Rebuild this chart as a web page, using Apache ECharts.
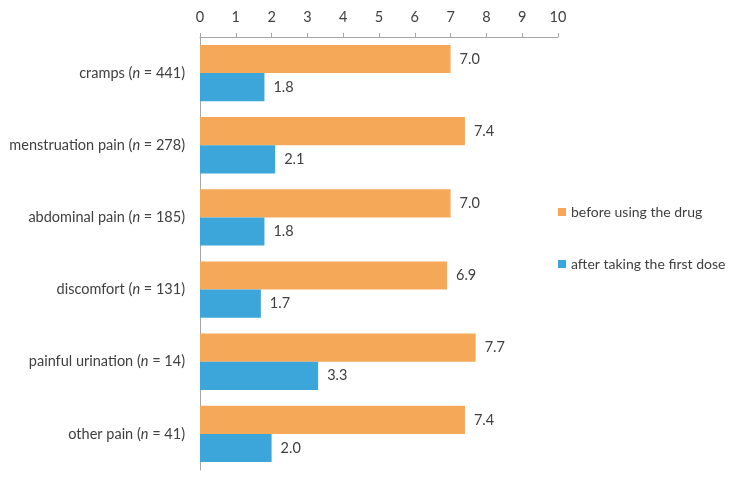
<!DOCTYPE html>
<html>
<head>
<meta charset="utf-8">
<script src="https://cdn.jsdelivr.net/npm/echarts@6/dist/echarts.min.js"></script>
<style>
html, body { margin: 0; padding: 0; background: #fff; }
#chart { width: 736px; height: 479px; }
</style>
</head>
<body>
<div id="chart"></div>
<script>
var categories = ['cramps', 'menstruation pain', 'abdominal pain', 'discomfort', 'painful urination', 'other pain'];
var counts = [441, 278, 185, 131, 14, 41];
var before = [7.0, 7.4, 7.0, 6.9, 7.7, 7.4];
var after = [1.8, 2.1, 1.8, 1.7, 3.3, 2.0];
var xTicks = [0, 10, 1];

var txt = '#404040';
var font = 'Lato';
var fs = 14.5;

var chart = echarts.init(document.getElementById('chart'));
chart.setOption({
  animation: false,
  textStyle: { fontFamily: font },
  grid: { left: 200, right: 178, top: 37, bottom: 9, containLabel: false },
  legend: {
    orient: 'vertical',
    left: 553,
    top: 200,
    itemWidth: 8,
    itemHeight: 8,
    itemGap: 38,
    icon: 'rect',
    textStyle: { color: txt, fontSize: 14, fontFamily: font },
    data: ['before using the drug', 'after taking the first dose']
  },
  xAxis: {
    type: 'value',
    position: 'top',
    min: xTicks[0],
    max: xTicks[1],
    interval: xTicks[2],
    axisLine: { show: true, lineStyle: { color: '#a6a6a6' } },
    axisTick: { show: true, inside: false, length: 4, lineStyle: { color: '#a6a6a6' } },
    axisLabel: { color: txt, fontSize: fs, margin: 12 },
    splitLine: { show: false }
  },
  yAxis: {
    type: 'category',
    inverse: true,
    data: categories.map(function (c, i) { return c + '|' + counts[i]; }),
    axisLine: { show: true, lineStyle: { color: '#a6a6a6' } },
    axisTick: { show: false },
    axisLabel: {
      margin: 15,
      formatter: function (v) {
        var p = v.split('|');
        return '{a|' + p[0] + ' (}{i|n}{a| = ' + p[1] + ')}';
      },
      rich: {
        a: { color: txt, fontSize: fs, fontFamily: font },
        i: { color: txt, fontSize: fs, fontFamily: font, fontStyle: 'italic' }
      }
    }
  },
  series: [
    {
      name: 'before using the drug',
      type: 'bar',
      data: before,
      barGap: '0%',
      barCategoryGap: '22%',
      itemStyle: { color: '#F4A858' },
      label: { show: true, position: 'right', distance: 9, color: txt, fontSize: fs, formatter: function (p) { return p.value.toFixed(1); } }
    },
    {
      name: 'after taking the first dose',
      type: 'bar',
      data: after,
      barGap: '0%',
      barCategoryGap: '22%',
      itemStyle: { color: '#3CA6DA' },
      label: { show: true, position: 'right', distance: 9, color: txt, fontSize: fs, formatter: function (p) { return p.value.toFixed(1); } }
    }
  ]
});
</script>
</body>
</html>
